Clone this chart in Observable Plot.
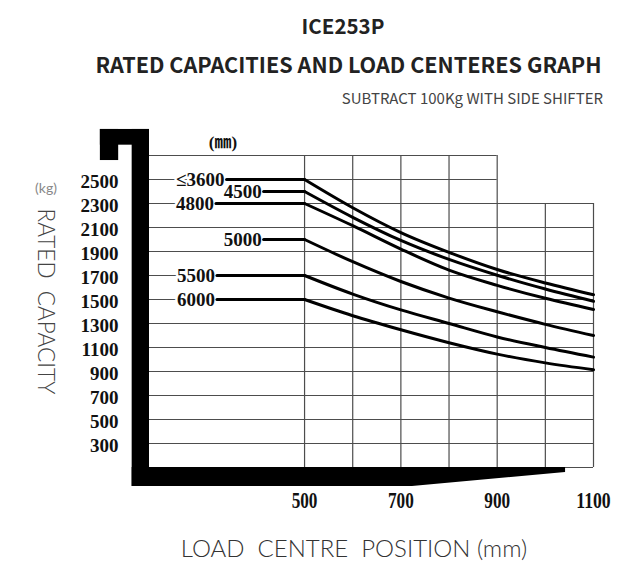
<!DOCTYPE html>
<html>
<head>
<meta charset="utf-8">
<script src="https://cdn.jsdelivr.net/npm/d3@7"></script>
<script src="https://cdn.jsdelivr.net/npm/@observablehq/plot@0.6"></script>
<style>
  body { margin: 0; background: #fff; }
  #wrap { position: relative; width: 644px; height: 569px; overflow: hidden; }
  #chart { position: absolute; left: 0; top: 0; }
  .t { position: absolute; white-space: nowrap; line-height: 1; font-family: "Noto Sans CJK SC", "Noto Sans", sans-serif; }
  #t1 { top: 15px; left: 343px; transform: translateX(-50%); font-size: 20.5px; font-weight: 700; color: #222; }
  #t2 { top: 53px; left: 348.5px; transform: translateX(-50%); font-size: 21.6px; font-weight: 700; color: #222; }
  #t3 { top: 90px; right: 41px; font-size: 15px; font-weight: 400; color: #444; }
</style>
</head>
<body>
<div id="wrap">
  <div id="chart"></div>
  <div class="t" id="t1">ICE253P</div>
  <div class="t" id="t2">RATED CAPACITIES AND LOAD CENTERES GRAPH</div>
  <div class="t" id="t3">SUBTRACT 100Kg WITH SIDE SHIFTER</div>
</div>
<script>
// ---- data (load centre in mm, capacity in kg) ----
const loadCentres = [500, 600, 700, 800, 900, 1000, 1100];
const mastHeights = ["≤3600", "4500", "4800", "5000", "5500", "6000"];
const cap3600 = [2500, 2265, 2058, 1893, 1750, 1638, 1540];
const cap4500 = [2400, 2185, 1992, 1834, 1702, 1587, 1485];
const cap4800 = [2300, 2115, 1920, 1745, 1618, 1510, 1417];
const cap5000 = [2000, 1815, 1650, 1512, 1398, 1293, 1200];
const cap5500 = [1700, 1545, 1413, 1300, 1188, 1100, 1020];
const cap6000 = [1500, 1365, 1248, 1140, 1045, 972, 915];
const labelStart = [338, 415, 316, 415, 318, 318]; // mm where each flat line begins
const yTicks = [2500, 2300, 2100, 1900, 1700, 1500, 1300, 1100, 900, 700, 500, 300];
const xTicks = [500, 700, 900, 1100];
const xGrid = [500, 600, 700, 800, 900, 1000, 1100];
const xGridTop = [2700, 2700, 2700, 2700, 2700, 2300, 2300];
const yGrid = [100, 300, 500, 700, 900, 1100, 1300, 1500, 1700, 1900, 2100, 2300, 2500, 2700];
const yGridRight = [1100, 1100, 1100, 1100, 1100, 1100, 1100, 1100, 1100, 1100, 1100, 1100, 900, 900];
const xDomain = [178, 1100];
const yDomain = [100, 2700];
// mast / fork silhouette in data units
const mastRects = [
  {x1: 76, x2: 178, y1: 2786, y2: 2917},
  {x1: 76, x2: 114, y1: 2658, y2: 2917},
  {x1: 142, x2: 178, y1: -58, y2: 2917}
];
const forkX = [142, 724, 1042];
const forkLow = [-58, -58, 58];
const forkHigh = [100, 100, 100];

// ---- derived tables ----
const capList = [cap3600, cap4500, cap4800, cap5000, cap5500, cap6000];
const curves = mastHeights.flatMap((m, i) => loadCentres.map((x, j) => ({mast: m, x, y: capList[i][j]})));
const flats = mastHeights.flatMap((m, i) => [
  {mast: m, x: labelStart[i], y: capList[i][0]},
  {mast: m, x: loadCentres[0], y: capList[i][0]}
]);
const labels = mastHeights.map((m, i) => ({mast: m, x: labelStart[i], y: capList[i][0]}));
const fork = forkX.map((x, i) => ({x, y1: forkLow[i], y2: forkHigh[i]}));

const serif = "'Liberation Serif', 'Times New Roman', serif";
const light = "Lato, 'Open Sans', sans-serif";

const plot = Plot.plot({
  width: 644,
  height: 569,
  marginLeft: 149,
  marginRight: 51,
  marginTop: 155,
  marginBottom: 102,
  x: {domain: xDomain},
  y: {domain: yDomain},
  style: {background: "white", fontFamily: serif, overflow: "visible"},
  marks: [
    Plot.ruleY(yGrid, {y: d => d, x1: xDomain[0], x2: (d, i) => yGridRight[i], stroke: "#4d4d4d", strokeWidth: 1.2}),
    Plot.ruleX(xGrid, {x: d => d, y1: yDomain[0], y2: (d, i) => xGridTop[i], stroke: "#4d4d4d", strokeWidth: 1.2}),
    Plot.rect(mastRects, {x1: "x1", x2: "x2", y1: "y1", y2: "y2", fill: "black"}),
    Plot.areaY(fork, {x: "x", y1: "y1", y2: "y2", fill: "black", curve: "linear"}),
    Plot.text(labels, {x: "x", y: "y", text: "mast", textAnchor: "end", dx: -2, fontSize: 19, fontWeight: "bold",
      fill: "#111", stroke: "white", strokeWidth: 5, fontFamily: serif}),
    Plot.line(flats, {x: "x", y: "y", z: "mast", stroke: "black", strokeWidth: 3}),
    Plot.line(curves, {x: "x", y: "y", z: "mast", stroke: "black", strokeWidth: 3, curve: "monotone-x"}),
    Plot.axisY(yTicks, {tickSize: 0, tickPadding: 31, dy: 2, tickFormat: d => String(d), fontSize: 19, fontWeight: "bold", fill: "#111", label: null, fontFamily: serif}),
    Plot.axisX(xTicks, {tickSize: 0, tickPadding: 23, tickFormat: d => String(d), fontSize: 24, fontWeight: "bold", fill: "#111", label: null, fontFamily: serif}),
    Plot.text(["(㎜)"], {text: d => d, frameAnchor: "top-left", dx: 73.5, dy: -19.5, textAnchor: "middle",
      fontSize: 17, fontWeight: "bold", fill: "#111", fontFamily: "'Liberation Serif', 'Noto Sans CJK SC', serif"}),
    Plot.text(["(kg)"], {text: d => d, frameAnchor: "top-left", dx: -103.5, dy: 28, textAnchor: "middle",
      fontSize: 14, fill: "#888", fontFamily: light}),
    Plot.text(["RATED\u00a0 CAPACITY"], {text: d => d, frameAnchor: "left", dx: -104, dy: -10, rotate: 90, textAnchor: "middle",
      fontSize: 22.5, fontWeight: 300, fill: "#444", fontFamily: light}),
    Plot.text(["LOAD\u00a0 CENTRE\u00a0 POSITION (mm)"], {text: d => d, frameAnchor: "bottom", dx: -17.5, dy: 89, textAnchor: "middle",
      fontSize: 24, fontWeight: 300, fill: "#333", fontFamily: light})
  ]
});
document.getElementById("chart").appendChild(plot);

// condense the x tick labels like the reference
d3.select(plot).selectAll('g[aria-label="x-axis tick label"] text').each(function() {
  const n = this.textContent.length;
  this.setAttribute("textLength", n * 8.6);
  this.setAttribute("lengthAdjust", "spacingAndGlyphs");
});
</script>
</body>
</html>
